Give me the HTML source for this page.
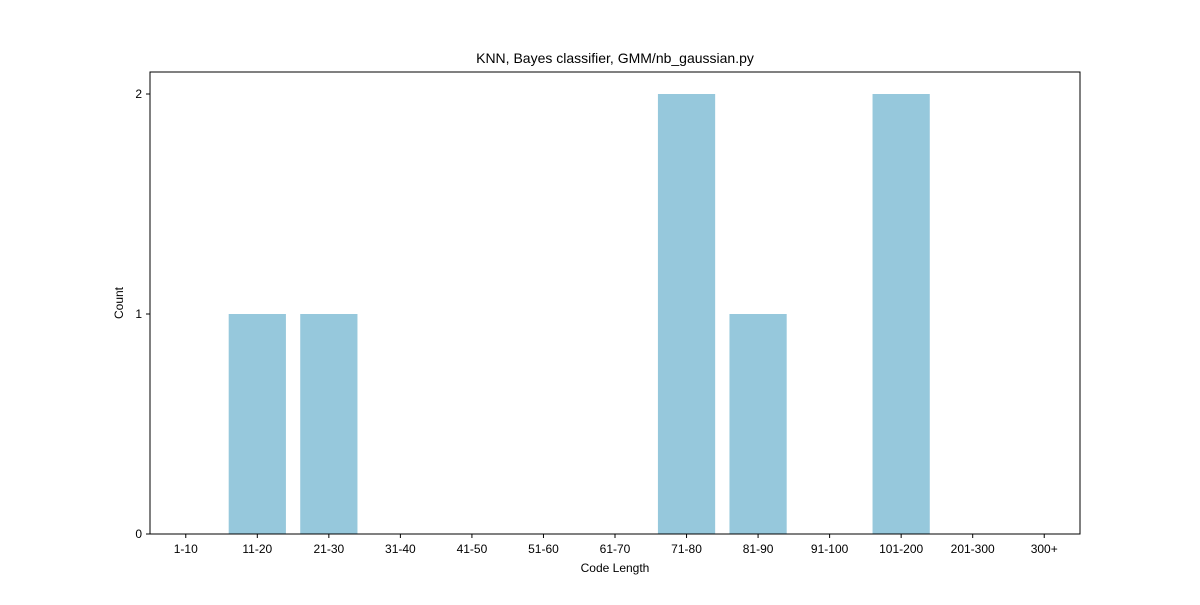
<!DOCTYPE html>
<html><head><meta charset="utf-8">
<style>
body{margin:0;background:#fff;}
svg text{font-family:"Liberation Sans",sans-serif;fill:#000;}
</style></head>
<body>
<svg id="chart" width="1200" height="600">
<rect width="1200" height="600" fill="#fff"/>
<text x="615" y="63" text-anchor="middle" font-size="14">KNN, Bayes classifier, GMM/nb_gaussian.py</text>
<g id="bars"></g>
<g id="xticks"></g>
<g id="yticks"></g>
<rect x="150" y="72" width="930" height="462" fill="none" stroke="#000" stroke-width="1"/>
<text x="615" y="572" text-anchor="middle" font-size="12">Code Length</text>
<text x="123" y="303" text-anchor="middle" font-size="12" transform="rotate(-90 123 303)">Count</text>
</svg>
<script>
const categories=["1-10","11-20","21-30","31-40","41-50","51-60","61-70","71-80","81-90","91-100","101-200","201-300","300+"];
const counts=[0,1,1,0,0,0,0,2,1,0,2,0,0];
const yTicks=[0,1,2];
const ns="http://www.w3.org/2000/svg";
const L=150,R=1080,T=72,B=534;
const xs=i=>L+(i+0.5)*(R-L)/categories.length;
const ys=v=>B-(v/2.1)*(B-T);
const bw=0.8*(R-L)/categories.length;
const bars=document.getElementById('bars'),xt=document.getElementById('xticks'),yt=document.getElementById('yticks');
categories.forEach((c,i)=>{
  if(counts[i]>0){
    const r=document.createElementNS(ns,'rect');
    r.setAttribute('x',xs(i)-bw/2);r.setAttribute('y',ys(counts[i]));
    r.setAttribute('width',bw);r.setAttribute('height',B-ys(counts[i]));
    r.setAttribute('fill','#96c8dc');
    
    
    bars.appendChild(r);
  }
  const l=document.createElementNS(ns,'line');
  l.setAttribute('x1',xs(i));l.setAttribute('x2',xs(i));l.setAttribute('y1',B);l.setAttribute('y2',B+4);l.setAttribute('stroke','#000');
  
  
  xt.appendChild(l);
  const t=document.createElementNS(ns,'text');
  t.setAttribute('x',xs(i));t.setAttribute('y',B+19);t.setAttribute('text-anchor','middle');t.setAttribute('font-size','12');
  t.textContent=c;
  
  
  xt.appendChild(t);
});
yTicks.forEach(v=>{
  const l=document.createElementNS(ns,'line');
  l.setAttribute('x1',L-4);l.setAttribute('x2',L);l.setAttribute('y1',ys(v));l.setAttribute('y2',ys(v));l.setAttribute('stroke','#000');
  
  
  yt.appendChild(l);
  const t=document.createElementNS(ns,'text');
  t.setAttribute('x',L-8);t.setAttribute('y',ys(v)+4);t.setAttribute('text-anchor','end');t.setAttribute('font-size','12');
  t.textContent=v;
  
  
  yt.appendChild(t);
});
</script>
</body></html>
